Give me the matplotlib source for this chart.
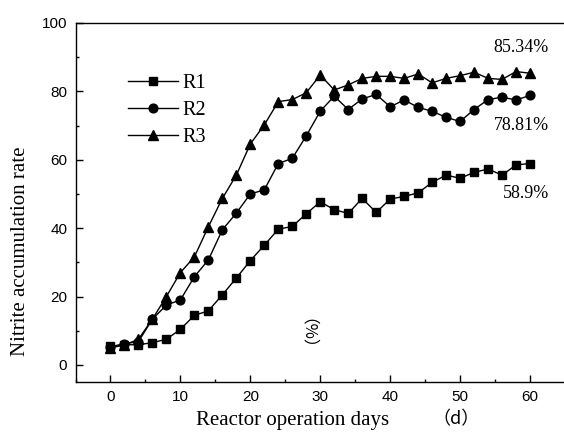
import matplotlib
matplotlib.use("Agg")
import matplotlib.pyplot as plt
from matplotlib.ticker import MultipleLocator

FIG_W, FIG_H = 564, 437

days = list(range(0, 62, 2))
r1 = [5.4, 5.9, 5.9, 6.5, 7.5, 10.4, 14.5, 15.8, 20.5, 25.4, 30.5, 35.0, 39.7, 40.5, 44.2, 47.7,
      45.4, 44.3, 48.7, 44.6, 48.5, 49.3, 50.3, 53.4, 55.5, 54.6, 56.3, 57.3, 55.5, 58.5, 58.9]
r2 = [5.3, 6.2, 6.8, 13.4, 17.5, 19.0, 25.8, 30.7, 39.5, 44.4, 50.0, 51.2, 58.9, 60.4, 67.0, 74.2,
      78.6, 74.7, 77.8, 79.1, 75.5, 77.5, 75.3, 74.2, 72.4, 71.2, 74.7, 77.6, 78.3, 77.5, 78.8]
r3 = [5.0, 5.8, 7.5, 13.4, 20.0, 27.0, 31.6, 40.4, 48.7, 55.5, 64.6, 70.2, 77.0, 77.6, 79.6, 84.8,
      80.4, 81.9, 83.8, 84.4, 84.4, 83.8, 85.1, 82.5, 83.8, 84.6, 85.6, 83.8, 83.5, 85.8, 85.3]
series_labels = ["R1", "R2", "R3"]
end_labels = ["58.9%", "78.81%", "85.34%"]

SERIF = "Liberation Serif"
SANS = "Liberation Sans"
CJK = ["Noto Sans CJK SC", "DejaVu Sans"]


def fx(px):
    return px / FIG_W


def fy(py):
    return 1 - py / FIG_H


fig = plt.figure(figsize=(FIG_W / 100, FIG_H / 100), dpi=100)
ax = fig.add_axes([fx(75.5), fy(382), (565 - 75.5) / FIG_W, (382 - 23) / FIG_H])

ax.plot(days, r1, color="black", lw=1.0, marker="s", ms=5.8, label=series_labels[0])
ax.plot(days, r2, color="black", lw=1.0, marker="o", ms=6.3, label=series_labels[1])
ax.plot(days, r3, color="black", lw=1.0, marker="^", ms=7.0, label=series_labels[2])

ax.set_xlim(-5, 65)
ax.set_ylim(-5, 100)
ax.xaxis.set_major_locator(MultipleLocator(10))
ax.xaxis.set_minor_locator(MultipleLocator(5))
ax.yaxis.set_major_locator(MultipleLocator(20))
ax.yaxis.set_minor_locator(MultipleLocator(10))
ax.tick_params(which="both", direction="in", width=1.0, pad=6, labelsize=11)
ax.tick_params(which="major", length=5)
ax.tick_params(which="minor", length=2.5)
for lab in ax.get_xticklabels() + ax.get_yticklabels():
    lab.set_fontfamily(SANS)
ax.spines["right"].set_visible(False)
for s in ["left", "bottom", "top"]:
    ax.spines[s].set_linewidth(1.0)

ax.legend(loc="upper left", bbox_to_anchor=(fx(128), fy(74)), bbox_transform=fig.transFigure,
          frameon=False, borderpad=0, borderaxespad=0, handlelength=2.5, handletextpad=0.2,
          labelspacing=0.38, prop={"family": SERIF, "size": 14.5})

# end-of-series value labels
fig.text(fx(549), fy(193), end_labels[0], ha="right", va="center", family=SERIF, fontsize=13)
fig.text(fx(549), fy(125), end_labels[1], ha="right", va="center", family=SERIF, fontsize=13)
fig.text(fx(549), fy(48), end_labels[2], ha="right", va="center", family=SERIF, fontsize=13)

# axis titles
fig.text(fx(21), fy(251), "Nitrite accumulation rate", rotation=90, ha="center", va="center",
         family=SERIF, fontsize=15)
fig.text(fx(293), fy(421), "Reactor operation days", ha="center", va="center",
         family=SERIF, fontsize=15)
fig.text(fx(456), fy(419), "（d）", ha="center", va="center", family=CJK, fontsize=13)
fig.text(fx(298), fy(342), "（%）", rotation=-90, ha="center", va="center", family=CJK, fontsize=12)

fig.savefig("out.png", dpi=100)
